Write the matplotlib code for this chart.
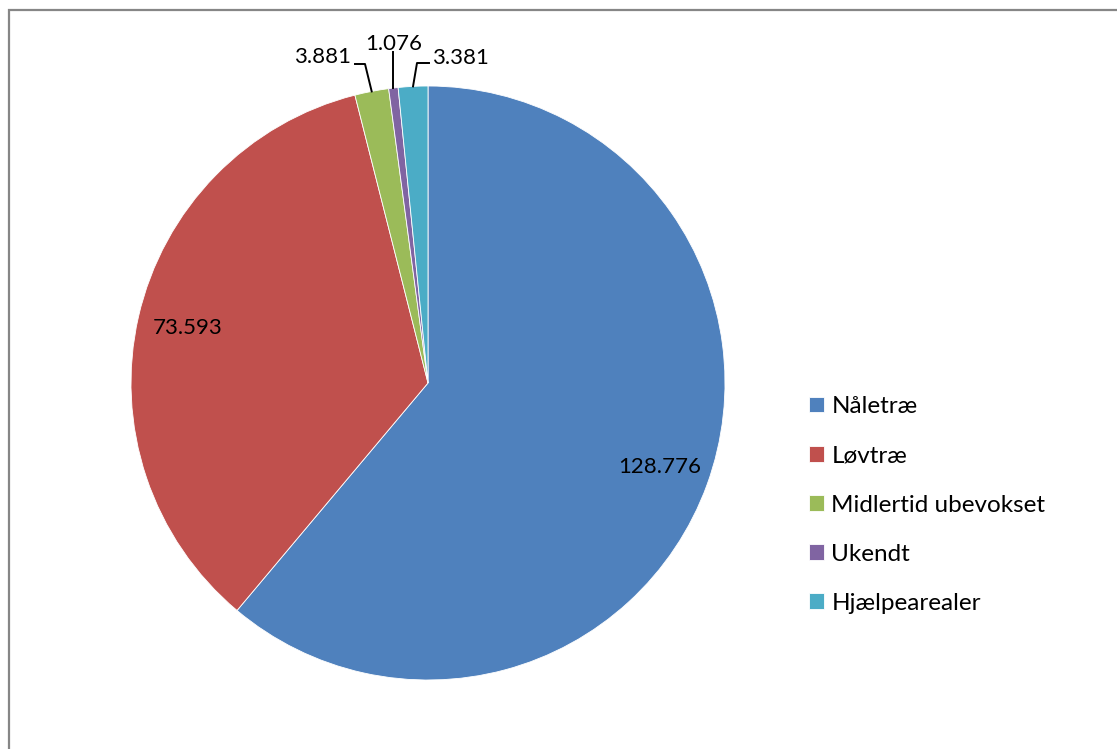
import matplotlib.pyplot as plt
import matplotlib.patches as mpatches
import numpy as np

plt.rcParams['font.family'] = ['Lato', 'DejaVu Sans']

# Data (ha)
categories = ['Nåletræ', 'Løvtræ', 'Midlertid ubevokset', 'Ukendt', 'Hjælpearealer']
values = [128776, 73593, 3881, 1076, 3381]
colors = ['#4F81BD', '#C0504D', '#9BBB59', '#8064A2', '#4BACC6']

def fmt(v):
    return f'{v:,}'.replace(',', '.')

W, H = 1117, 749
fig = plt.figure(figsize=(W / 100, H / 100), dpi=100)
ax = fig.add_axes([0, 0, 1, 1])

# pie centre (428, 383) px, radius 297 px
cx, cy, R = 428, 383, 297
wedges, _ = ax.pie(values, colors=colors, startangle=90, counterclock=False,
                   radius=1, wedgeprops=dict(edgecolor='white', linewidth=0.6))
ax.set_aspect('auto')
ax.set_xlim(-cx / R, (W - cx) / R)
ax.set_ylim(-(H - cy) / R, cy / R)
ax.axis('off')

fs = 16
mids = [np.deg2rad((w.theta1 + w.theta2) / 2) for w in wedges]

# inside labels for the two big slices
for i in range(2):
    r = 0.83
    ax.text(r * np.cos(mids[i]), r * np.sin(mids[i]), fmt(values[i]),
            ha='center', va='center', fontsize=fs)

# small slices: labels with leader lines
def px(x, y):
    return ((x - cx) / R, (cy - y) / R)

# Midlertid ubevokset
p0 = (np.cos(mids[2]), np.sin(mids[2]))
e1, e2 = px(365, 64), px(355, 64)
ax.plot([p0[0], e1[0], e2[0]], [p0[1], e1[1], e2[1]], color='black', lw=1.4)
t = px(351, 57)
ax.text(t[0], t[1], fmt(values[2]), ha='right', va='center', fontsize=fs)

# Ukendt
p0 = (np.cos(mids[3]), np.sin(mids[3]))
e1 = (p0[0], px(0, 52)[1])
ax.plot([p0[0], e1[0]], [p0[1], e1[1]], color='black', lw=1.4)
t = (p0[0], px(0, 44)[1])
ax.text(t[0], t[1], fmt(values[3]), ha='center', va='center', fontsize=fs)

# Hjælpearealer
p0 = (np.cos(mids[4]), np.sin(mids[4]))
e1, e2 = px(417, 63), px(429, 63)
ax.plot([p0[0], e1[0], e2[0]], [p0[1], e1[1], e2[1]], color='black', lw=1.4)
t = px(432, 58)
ax.text(t[0], t[1], fmt(values[4]), ha='left', va='center', fontsize=fs)

# legend
lfs = 17.5
ax.legend(wedges, categories, loc='center left',
          bbox_to_anchor=(809 / W, 1 - 505 / H), bbox_transform=fig.transFigure,
          frameon=False, fontsize=lfs, handlelength=0.62, handleheight=0.62,
          handletextpad=0.3, labelspacing=1.16, borderpad=0, borderaxespad=0)

# outer chart border (cropped at right/bottom)
fig.patches.append(mpatches.Rectangle((9 / W, -0.05), 1.1, 1 - 10 / H + 0.05,
                                      transform=fig.transFigure, fill=False,
                                      edgecolor='#868686', linewidth=1.6))

fig.savefig('out.png', dpi=100)
